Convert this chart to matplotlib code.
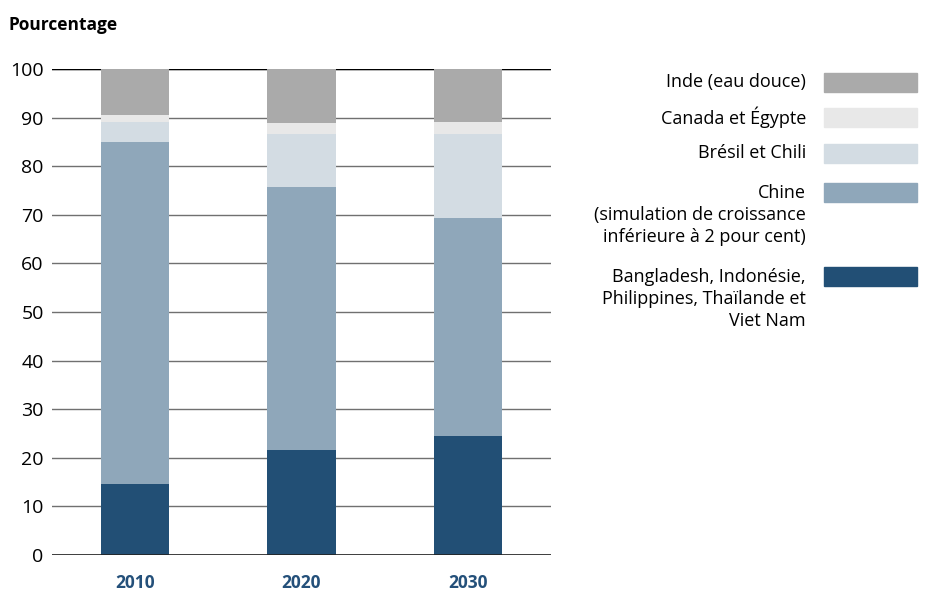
import matplotlib.pyplot as plt
from matplotlib.patches import Rectangle

plt.rcParams['font.family'] = ['Open Sans', 'DejaVu Sans']

years = ["2010", "2020", "2030"]
bangladesh = [14.6, 21.6, 24.5]
chine = [70.4, 54.2, 44.9]
bresil = [4.0, 10.9, 17.3]
canada = [1.5, 2.1, 2.3]
inde = [9.5, 11.2, 11.0]

series = [bangladesh, chine, bresil, canada, inde]
colors = ["#224f75", "#8fa7ba", "#d3dce3", "#e8e8e8", "#aaaaaa"]
labels = ["Bangladesh, Indonésie,\nPhilippines, Thaïlande et\nViet Nam",
          "Chine\n(simulation de croissance\ninférieure à 2 pour cent)",
          "Brésil et Chili",
          "Canada et Égypte",
          "Inde (eau douce)"]

W, H = 932, 594
fig = plt.figure(figsize=(W / 100, H / 100), dpi=100)
ax = fig.add_axes([52 / W, 1 - 555 / H, 499 / W, 486 / H])

x = list(range(len(years)))
bottom = [0] * len(years)
for vals, c in zip(series, colors):
    ax.bar(x, vals, bottom=bottom, width=0.41, color=c, zorder=2)
    bottom = [b + v for b, v in zip(bottom, vals)]

ax.set_xlim(-0.5, 2.5)
ax.set_ylim(0, 100)
ax.set_yticks(range(0, 101, 10))
ax.yaxis.grid(True, color="#707070", linewidth=1.0)
ax.set_axisbelow(True)
ax.axhline(100, color="black", linewidth=1.0, zorder=1)
ax.axhline(0, color="#222222", linewidth=1.2, zorder=3)
for s in ax.spines.values():
    s.set_visible(False)
ax.tick_params(axis="y", length=0, pad=6, labelsize=14)
ax.tick_params(axis="x", length=0, pad=14)
ax.set_xticks(x)
ax.set_xticklabels(years, fontsize=12.5, fontweight="bold", color="#24507a")

fig.text(8 / W, 1 - 25 / H, "Pourcentage", fontsize=12.5, fontweight="bold",
         va="center", ha="left")

# legend, drawn by hand to the right of the plot
centers = [276.5, 192.5, 153.5, 117.5, 82.5]
for lab, c, yc in zip(labels, colors, centers):
    fig.patches.append(Rectangle((824 / W, 1 - (yc + 9.5) / H), 93 / W, 19 / H,
                                 transform=fig.transFigure, color=c, figure=fig))
    for i, line in enumerate(lab.split("\n")):
        fig.text(806 / W, 1 - (yc + i * 22) / H, line, fontsize=13,
                 ha="right", va="center")

fig.savefig("out.png", dpi=100)
